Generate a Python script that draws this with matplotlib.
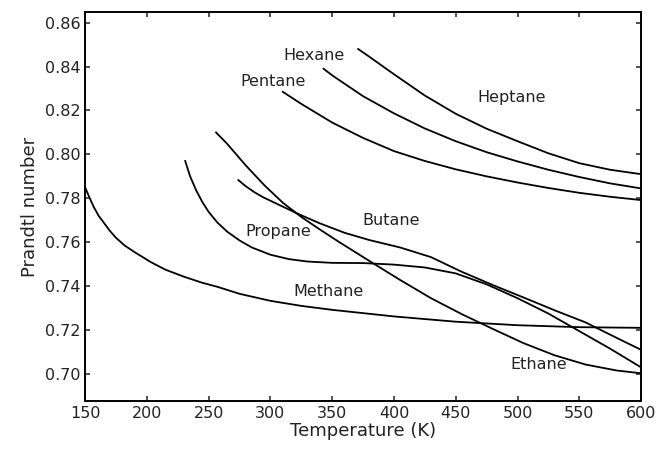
import matplotlib

matplotlib.use("Agg")
import matplotlib.pyplot as plt

# Prandtl number of alkanes vs temperature
methane_t = [150, 153, 157, 161, 165, 170, 175, 182, 190, 203, 215, 230, 245, 257, 275, 300,
             325, 350, 400, 450, 500, 550, 600]
methane_pr = [0.785, 0.781, 0.776, 0.772, 0.769, 0.7652, 0.762, 0.7585, 0.7555, 0.751, 0.7475,
              0.7443, 0.7415, 0.7397, 0.7365, 0.7333, 0.731, 0.7292, 0.7262, 0.7238, 0.7222,
              0.7213, 0.721]

ethane_t = [256, 265, 280, 295, 310, 325, 340, 355, 380, 405, 430, 455, 480, 505, 530, 555, 580, 600]
ethane_pr = [0.810, 0.8048, 0.795, 0.786, 0.778, 0.7715, 0.7658, 0.7603, 0.7515, 0.7428, 0.7345,
             0.7272, 0.7205, 0.714, 0.7085, 0.7043, 0.7016, 0.7003]

propane_t = [231, 235, 240, 245, 250, 257, 265, 275, 285, 300, 315, 330, 350, 375, 400, 425,
             450, 475, 500, 525, 550, 575, 600]
propane_pr = [0.797, 0.790, 0.7835, 0.7782, 0.7738, 0.769, 0.7648, 0.7608, 0.7576, 0.7543,
              0.7523, 0.7512, 0.7506, 0.7505, 0.7498, 0.7485, 0.7458, 0.7408, 0.7345, 0.7275,
              0.7195, 0.7115, 0.703]

butane_t = [274, 280, 287, 294, 310, 324, 340, 360, 380, 405, 430, 455, 480, 505, 530, 555,
            580, 600]
butane_pr = [0.7883, 0.7855, 0.7828, 0.7805, 0.7762, 0.7725, 0.7686, 0.7643, 0.761, 0.7576,
             0.7532, 0.7465, 0.7405, 0.7348, 0.729, 0.7235, 0.7165, 0.711]

pentane_t = [310, 325, 350, 375, 400, 425, 450, 475, 500, 525, 550, 575, 600]
pentane_pr = [0.8285, 0.823, 0.8145, 0.8075, 0.8015, 0.797, 0.7932, 0.790, 0.7872, 0.7847,
              0.7825, 0.7807, 0.7792]

hexane_t = [343, 350, 375, 400, 425, 450, 475, 500, 525, 550, 575, 600]
hexane_pr = [0.839, 0.836, 0.8265, 0.8187, 0.8118, 0.806, 0.801, 0.7968, 0.793, 0.7897, 0.7868,
             0.7845]

heptane_t = [371, 380, 400, 425, 450, 475, 500, 525, 550, 575, 600]
heptane_pr = [0.848, 0.8445, 0.8365, 0.8268, 0.8185, 0.8117, 0.806, 0.8005, 0.796, 0.793, 0.791]

labels = ["Methane", "Ethane", "Propane", "Butane", "Pentane", "Hexane", "Heptane"]
label_xy = [(347, 0.7374), (517, 0.7045), (306, 0.7647), (398, 0.770),
            (302, 0.833), (335, 0.845), (495, 0.8258)]

fig = plt.figure(figsize=(6.65, 4.49), dpi=100)
ax = fig.add_axes([0.128, 0.107, 0.836, 0.866])

for t, pr in [(methane_t, methane_pr), (ethane_t, ethane_pr), (propane_t, propane_pr),
              (butane_t, butane_pr), (pentane_t, pentane_pr), (hexane_t, hexane_pr),
              (heptane_t, heptane_pr)]:
    ax.plot(t, pr, color="black", linewidth=1.3, solid_joinstyle="round")

for name, (x, y) in zip(labels, label_xy):
    ax.text(x, y, name, fontsize=11.5, ha="center", va="center", color="#222222")

ax.set_xlim(150, 600)
ax.set_ylim(0.6877, 0.8648)
ax.set_xticks(range(150, 601, 50))
ax.set_yticks([0.70, 0.72, 0.74, 0.76, 0.78, 0.80, 0.82, 0.84, 0.86])
ax.set_yticklabels([f"{v:.2f}" for v in ax.get_yticks()])
ax.tick_params(direction="in", top=True, right=True, length=3.5, width=1.1,
               labelsize=11.5, colors="#222222")
for spine in ax.spines.values():
    spine.set_linewidth(1.4)

ax.set_xlabel("Temperature (K)", fontsize=13, labelpad=1, color="#222222")
ax.set_ylabel("Prandtl number", fontsize=13, labelpad=4, color="#222222")

fig.savefig("out.png", dpi=100)
